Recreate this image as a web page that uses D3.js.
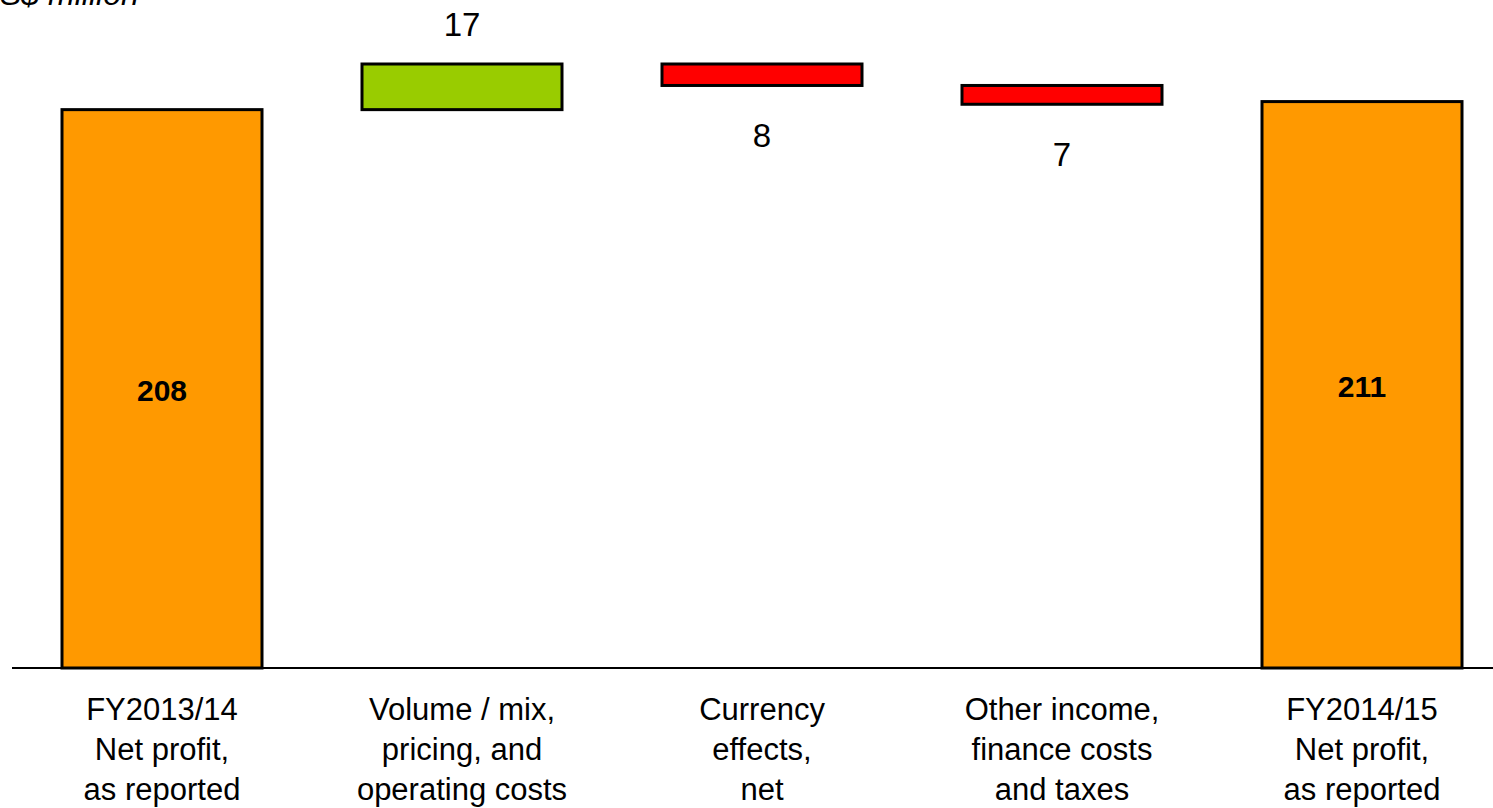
<!DOCTYPE html>
<html>
<head>
<meta charset="utf-8">
<script src="https://cdn.jsdelivr.net/npm/d3@7"></script>
<style>
  body { margin: 0; background: #fff; }
  text { font-family: "Liberation Sans", Arial, sans-serif; fill: #000; }
</style>
</head>
<body>
<div id="chart"></div>
<script>
// waterfall data, S$ million
var categories = [
    ["FY2013/14", "Net profit,", "as reported"],
    ["Volume / mix,", "pricing, and", "operating costs"],
    ["Currency", "effects,", "net"],
    ["Other income,", "finance costs", "and taxes"],
    ["FY2014/15", "Net profit,", "as reported"]
];
var kinds = ["total", "delta", "delta", "delta", "total"];
var values = [208, 17, -8, -7, 211];
var unitLabel = "S$ million";

var width = 1493, height = 808;
var baseY = 668;

var svg = d3.select("#chart")
    .append("svg")
    .attr("width", width)
    .attr("height", height);

// running totals for floating bars
var running = 0;
var bars = values.map(function(v, i) {
    var b;
    if (kinds[i] == "total") {
        b = {start: 0, end: v};
        running = v;
    } else {
        b = {start: running, end: running + v};
        running = running + v;
    }
    b.value = v;
    b.kind = kinds[i];
    b.i = i;
    return b;
});

var x = d3.scaleBand()
    .domain(d3.range(categories.length))
    .range([12, 1512])
    .paddingInner(1 / 3)
    .paddingOuter(1 / 6);

var y = d3.scaleLinear()
    .domain([0, 225])
    .range([baseY, 64]);

var color = function(d) {
    if (d.kind == "total") return "#FF9900";
    return d.value >= 0 ? "#99CC00" : "#FF0000";
};

// baseline
svg.append("line")
    .attr("x1", 12)
    .attr("x2", width)
    .attr("y1", y(0))
    .attr("y2", y(0))
    .attr("stroke", "#000")
    .attr("stroke-width", 2);

svg.selectAll(".bar")
    .data(bars)
    .enter().append("rect")
    .attr("class", "bar")
    .attr("x", function(d) { return x(d.i); })
    .attr("width", x.bandwidth())
    .attr("y", function(d) { return y(Math.max(d.start, d.end)); })
    .attr("height", function(d) { return Math.abs(y(d.start) - y(d.end)); })
    .attr("fill", color)
    .attr("stroke", "#000")
    .attr("stroke-width", 3);

// value labels
svg.selectAll(".val")
    .data(bars)
    .enter().append("text")
    .attr("class", "val")
    .attr("x", function(d) { return x(d.i) + x.bandwidth() / 2; })
    .attr("y", function(d) {
        if (d.kind == "total") return (y(d.start) + y(d.end)) / 2 + 12;
        if (d.value >= 0) return y(d.end) - 28;
        return y(d.end) + 62;
    })
    .attr("text-anchor", "middle")
    .attr("font-size", function(d) { return d.kind == "total" ? 30 : 33; })
    .attr("font-weight", function(d) { return d.kind == "total" ? "bold" : "normal"; })
    .text(function(d) { return Math.abs(d.value); });

// category labels
var cat = svg.selectAll(".cat")
    .data(categories)
    .enter().append("text")
    .attr("class", "cat")
    .attr("text-anchor", "middle")
    .attr("font-size", 31)
    .attr("transform", function(d, i) { return "translate(" + (x(i) + x.bandwidth() / 2) + ",0)"; });

cat.selectAll("tspan")
    .data(function(d) { return d; })
    .enter().append("tspan")
    .attr("x", 0)
    .attr("y", function(d, j) { return 720 + j * 40; })
    .text(function(d) { return d; });

// unit label, clipped at the top edge
svg.append("text")
    .attr("x", 0)
    .attr("y", 5)
    .attr("font-size", 32)
    .attr("font-style", "italic")
    .text(unitLabel);
</script>
</body>
</html>
